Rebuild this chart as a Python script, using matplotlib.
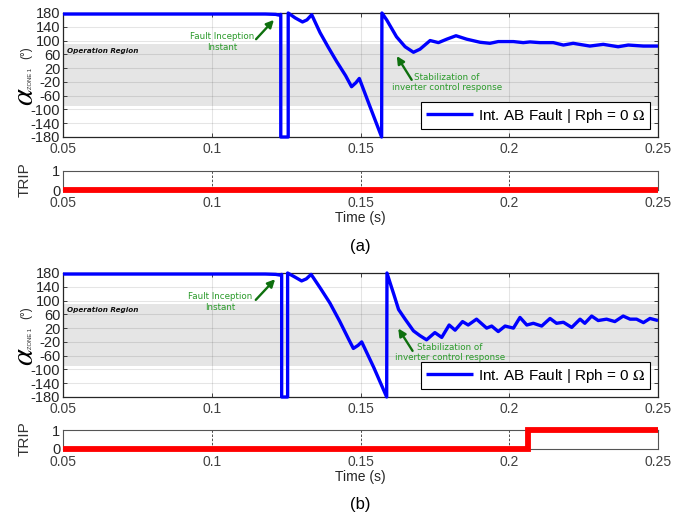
import matplotlib
matplotlib.use("Agg")
import matplotlib.pyplot as plt

plt.rcParams['font.family'] = ['Liberation Sans', 'DejaVu Sans']
plt.rcParams['mathtext.fontset'] = 'stix'
plt.rcParams['axes.unicode_minus'] = False

# ---------------- data ----------------
t_a = [0.050, 0.118, 0.1215, 0.1225, 0.1232, 0.1232, 0.1257, 0.1257, 0.1280, 0.1305,
       0.1320, 0.1336, 0.1364, 0.1392, 0.1420, 0.1450, 0.1470, 0.1485, 0.1496, 0.1532,
       0.1571, 0.1572, 0.1588, 0.1621, 0.1650, 0.1678, 0.1700, 0.1734, 0.1762, 0.1790,
       0.1821, 0.1857, 0.1902, 0.1935, 0.1963, 0.2014, 0.2047, 0.2070, 0.2103, 0.2148,
       0.2182, 0.2215, 0.2271, 0.2316, 0.2366, 0.2400, 0.2451, 0.2500]
alpha_a = [177, 177, 176, 174, 176, -180, -180, 180, 166, 154,
           160, 175, 123, 80, 39, -2, -34, -22, -10, -92,
           -180, 180, 160, 111, 82, 66, 75, 100, 94, 104,
           114, 104, 95, 92, 97, 97, 94, 96, 94, 94,
           87, 92, 84, 89, 82, 87, 84, 84]

t_b = [0.050, 0.118, 0.1215, 0.1229, 0.1235, 0.1235, 0.1255, 0.1255, 0.1280, 0.1302,
       0.1318, 0.1334, 0.1365, 0.1397, 0.1430, 0.1460, 0.1476, 0.1492, 0.1504, 0.1545,
       0.1588, 0.1589, 0.1600, 0.1612, 0.1628, 0.1650, 0.1678, 0.1700, 0.1722, 0.1750,
       0.1773, 0.1798, 0.1818, 0.1843, 0.1862, 0.1890, 0.1924, 0.1941, 0.1963, 0.1986,
       0.2014, 0.2036, 0.2059, 0.2081, 0.2109, 0.2137, 0.2159, 0.2182, 0.2210, 0.2238,
       0.2254, 0.2277, 0.2299, 0.2327, 0.2355, 0.2383, 0.2406, 0.2428, 0.2451, 0.2473,
       0.2500]
alpha_b = [177, 177, 176, 174, 176, -180, -180, 180, 168, 157,
           163, 176, 136, 93, 40, -12, -39, -30, -20, -95,
           -180, 180, 150, 118, 74, 46, 12, -2, -14, 7,
           -7, 29, 14, 39, 29, 46, 20, 26, 10, 26,
           20, 51, 29, 34, 26, 48, 34, 37, 22, 46,
           34, 55, 42, 46, 39, 55, 46, 46, 36, 48,
           42]

trip_t_a = [0.05, 0.25]
trip_v_a = [0, 0]
trip_t_b = [0.05, 0.2063, 0.25]
trip_v_b = [0, 1, 1]

region_lo, region_hi = -90, 90
x_ticks = [0.05, 0.1, 0.15, 0.2, 0.25]
x_ticklabels = ['0.05', '0.1', '0.15', '0.2', '0.25']
y_ticks = [-180, -140, -100, -60, -20, 20, 60, 100, 140, 180]
legend_label = 'Int. AB Fault | Rph = 0 $\\Omega$'

W, H = 698, 516
fig = plt.figure(figsize=(W / 100, H / 100), dpi=100)

def box(l, t, r, b):
    return [l / W, 1 - b / H, (r - l) / W, (b - t) / H]

TXT = '#262626'
GREEN_T = '#2a9a2a'
GREEN_A = '#0e700e'

def arrow(ax, tail, tip):
    ax.annotate('', xy=tip, xytext=tail,
                arrowprops=dict(arrowstyle='-|>', color=GREEN_A, lw=1.7,
                                mutation_scale=11, shrinkA=0, shrinkB=0),
                zorder=5)

def main_panel(top, t, a, fi_text, fi_tail, fi_tip, st_text, st_tail, st_tip, op_y):
    ax = fig.add_axes(box(63, top, 658, top + 124))
    ax.axhspan(region_lo, region_hi, color='#e5e5e5', zorder=0.5, lw=0)
    ax.plot(t, a, color='#0000ff', lw=2.4, label=legend_label, clip_on=False,
            zorder=3, solid_capstyle='butt')
    ax.set_xlim(0.05, 0.25)
    ax.set_ylim(-180, 180)
    ax.set_xticks(x_ticks)
    ax.set_xticklabels(x_ticklabels)
    ax.set_yticks(y_ticks)
    ax.grid(True, color='k', alpha=0.1, lw=0.8)
    ax.tick_params(direction='in', length=3, width=0.6, top=True, right=True,
                   colors=TXT)
    ax.tick_params(axis='y', labelsize=10.5, pad=2)
    ax.tick_params(axis='x', labelsize=10, pad=3.5, labelcolor='#404040')
    for s in ax.spines.values():
        s.set_color(TXT)
        s.set_linewidth(0.9)
    ax.text(0.0512, op_y, 'Operation Region', fontsize=5.2, fontweight='bold',
            fontstyle='italic', family='DejaVu Sans', color='#111111',
            va='center', ha='left', zorder=4)
    ax.text(fi_text[0], fi_text[1], 'Fault Inception\nInstant', fontsize=6.3,
            family='DejaVu Sans', color=GREEN_T, ha='center', va='center',
            linespacing=1.25, zorder=5)
    arrow(ax, fi_tail, fi_tip)
    ax.text(st_text[0], st_text[1], 'Stabilization of\ninverter control response',
            fontsize=6.3, family='DejaVu Sans', color=GREEN_T, ha='center',
            va='center', linespacing=1.25, zorder=5)
    arrow(ax, st_tail, st_tip)
    leg = ax.legend(loc='lower right', fontsize=11, frameon=True, fancybox=False,
                    edgecolor='k', framealpha=1, handlelength=3.1,
                    borderaxespad=0.5, borderpad=0.3, handletextpad=0.35)
    leg.get_frame().set_linewidth(0.8)
    leg.set_zorder(6)
    fig.text(25 / W, 1 - (top + 84) / H, r'$\alpha$', fontsize=22, rotation=90,
             ha='center', va='center', color='k')
    fig.text(30.5 / W, 1 - (top + 65) / H, 'ZONE 1', fontsize=4.2, rotation=90,
             ha='center', va='center', color=TXT)
    fig.text(26 / W, 1 - (top + 40) / H, '(°)', fontsize=8.5, rotation=90,
             ha='center', va='center', color=TXT)
    return ax

def trip_panel(top, t, v, timey, lab, laby):
    ax = fig.add_axes(box(63, top, 658, top + 19))
    ax.plot(t, v, color='#ff0000', lw=4.2, drawstyle='steps-post', clip_on=False,
            zorder=3, solid_joinstyle='miter', solid_capstyle='butt')
    ax.set_xlim(0.05, 0.25)
    ax.set_ylim(0, 1)
    ax.set_xticks(x_ticks)
    ax.set_xticklabels(x_ticklabels)
    ax.set_yticks([0, 1])
    ax.grid(True, axis='x', color='#333333', lw=0.6, ls=(0, (3, 2)))
    ax.tick_params(direction='in', length=0, colors=TXT)
    ax.tick_params(axis='y', labelsize=10.5, pad=2)
    ax.tick_params(axis='x', labelsize=10, pad=4.5, labelcolor='#404040')
    for s in ax.spines.values():
        s.set_color('#555555')
        s.set_linewidth(0.8)
    fig.text(25 / W, 1 - (top + 9) / H, 'TRIP', fontsize=11, rotation=90,
             ha='center', va='center', color='#333333')
    fig.text(360 / W, 1 - timey / H, 'Time (s)', fontsize=10, ha='center',
             va='center', color=TXT)
    fig.text(360 / W, 1 - laby / H, lab, fontsize=12, ha='center', va='center',
             color='k')
    return ax

main_panel(13, t_a, alpha_a,
           (0.1034, 96), (0.1149, 104), (0.1209, 160),
           (0.1791, -22), (0.1672, -14), (0.1622, 55), 70)
trip_panel(171, trip_t_a, trip_v_a, 218, '(a)', 246)
main_panel(273, t_b, alpha_b,
           (0.1028, 96), (0.1148, 102), (0.1213, 162),
           (0.1801, -51), (0.1675, -46), (0.1627, 19), 73)
trip_panel(430, trip_t_b, trip_v_b, 477, '(b)', 504)

fig.savefig('out.png', dpi=100)
